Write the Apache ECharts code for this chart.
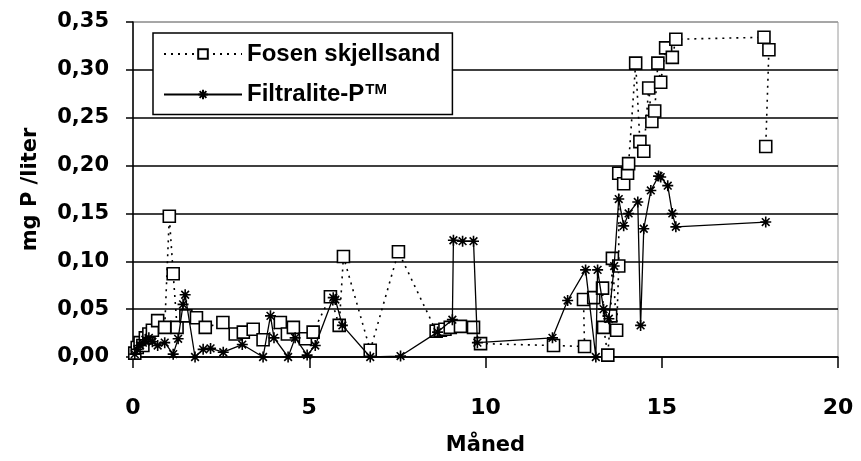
<!DOCTYPE html>
<html>
<head>
<meta charset="utf-8">
<script src="https://cdn.jsdelivr.net/npm/echarts@6/dist/echarts.min.js"></script>
<style>
  html, body { margin: 0; padding: 0; background: #fff; }
  #chart { width: 861px; height: 461px; }
</style>
</head>
<body>
<div id="chart"></div>
<script>
const yTicks = [0, 0.05, 0.1, 0.15, 0.2, 0.25, 0.3, 0.35]
const xTicks = [0, 5, 10, 15, 20]

const fosenMonths = [0.05, 0.12, 0.2, 0.28, 0.35, 0.45, 0.55, 0.7, 0.9, 1.03, 1.14, 1.25, 1.5, 1.8, 2.05, 2.55, 2.9, 3.13, 3.41,
  3.69, 4.18, 4.38, 4.55, 4.89, 5.11, 5.6, 5.85, 5.97, 6.73, 7.53, 8.6, 8.72, 8.85, 9.0, 9.29, 9.66, 9.86, 11.93, 12.81,
  12.78, 13.07, 13.32, 13.35, 13.47, 13.55, 13.6, 13.72, 13.78, 13.78, 13.92, 14.03, 14.06, 14.26, 14.38, 14.49, 14.63,
  14.72, 14.8, 14.89, 14.97, 15.11, 15.3, 15.4, 17.9, 18.04, 17.95]
const fosenValues = [0.004, 0.01, 0.015, 0.012, 0.02, 0.024, 0.028, 0.038, 0.031, 0.147, 0.087, 0.031, 0.043, 0.041, 0.031,
  0.036, 0.024, 0.026, 0.029, 0.018, 0.036, 0.024, 0.031, 0.019, 0.026, 0.063, 0.033, 0.105, 0.007, 0.11, 0.027, 0.028,
  0.029, 0.031, 0.032, 0.031, 0.014, 0.012, 0.011, 0.06, 0.062, 0.072, 0.031, 0.002, 0.043, 0.103, 0.028, 0.095, 0.192,
  0.181, 0.192, 0.202, 0.307, 0.225, 0.215, 0.281, 0.246, 0.257, 0.307, 0.287, 0.323, 0.313, 0.332, 0.334, 0.321, 0.22]

const filtraMonths = [0.05, 0.12, 0.2, 0.28, 0.35, 0.45, 0.55, 0.7, 0.9, 1.14, 1.28, 1.42, 1.48, 1.76, 1.99, 2.2, 2.56, 3.1,
  3.69, 3.9, 4.0, 4.4, 4.6, 4.94, 5.17, 5.68, 5.74, 5.94, 6.73, 7.59, 8.64, 9.06, 9.09, 9.35, 9.66, 9.77, 11.9, 12.33,
  12.84, 13.13, 13.18, 13.35, 13.5, 13.65, 13.78, 13.92, 14.06, 14.32, 14.4, 14.49, 14.69, 14.91, 14.97, 15.17, 15.3,
  15.4, 17.95]
const filtraValues = [0.003, 0.008, 0.012, 0.015, 0.018, 0.02, 0.016, 0.012, 0.015, 0.003, 0.019, 0.055, 0.065, 0.0, 0.008,
  0.009, 0.005, 0.013, 0.0, 0.043, 0.02, 0.0, 0.02, 0.002, 0.012, 0.062, 0.06, 0.033, 0.0, 0.001, 0.026, 0.039, 0.122,
  0.121, 0.121, 0.015, 0.02, 0.059, 0.091, 0.0, 0.091, 0.05, 0.04, 0.095, 0.165, 0.137, 0.15, 0.162, 0.033, 0.134, 0.174,
  0.189, 0.188, 0.179, 0.15, 0.136, 0.141]

const seriesNames = ['Fosen skjellsand', 'Filtralite-P']

const pairs = (xs, ys) => xs.map((x, i) => [x, ys[i]])
const starPath = 'path://M5,0L5,10M0,5L10,5M1.5,1.5L8.5,8.5M8.5,1.5L1.5,8.5'
const boldFont = 'DejaVu Sans'

const chart = echarts.init(document.getElementById('chart'), null, { renderer: 'canvas' })

chart.setOption({
  animation: false,
  backgroundColor: '#fff',
  grid: {
    left: 133, right: 23, top: 22, bottom: 101,
    show: true, borderColor: '#9a9a9a', borderWidth: 1
  },
  legend: {
    orient: 'vertical',
    left: 153, top: 33,
    padding: [9, 12, 8, 10],
    itemGap: 16,
    itemWidth: 78,
    itemHeight: 12,
    borderColor: '#000',
    borderWidth: 1.5,
    backgroundColor: '#fff',
    data: seriesNames,
    formatter: name => name === 'Filtralite-P' ? 'Filtralite-P{sup|TM}' : name,
    textStyle: {
      fontFamily: 'Liberation Sans',
      fontWeight: 'bold',
      fontSize: 24,
      color: '#000',
      rich: {
        sup: { fontFamily: 'Liberation Sans', fontSize: 15, color: '#000', padding: [0, 0, 10, 1] }
      }
    }
  },
  xAxis: {
    type: 'value',
    min: xTicks[0],
    max: xTicks[xTicks.length - 1],
    interval: 5,
    name: 'Måned',
    nameLocation: 'middle',
    nameGap: 78,
    nameTextStyle: { fontFamily: boldFont, fontWeight: 'bold', fontSize: 21, color: '#000' },
    axisLine: { onZero: false, lineStyle: { color: '#000', width: 1.5 } },
    axisTick: { show: true, length: 11, lineStyle: { color: '#000', width: 1.5 } },
    axisLabel: { margin: 40, fontFamily: boldFont, fontWeight: 'bold', fontSize: 22, color: '#000' },
    splitLine: { show: false }
  },
  yAxis: {
    type: 'value',
    min: yTicks[0],
    max: yTicks[yTicks.length - 1],
    interval: 0.05,
    name: 'mg P /liter',
    nameLocation: 'middle',
    nameRotate: 90,
    nameGap: 92,
    nameTextStyle: { fontFamily: boldFont, fontWeight: 'bold', fontSize: 21, color: '#000' },
    axisLine: { show: true, lineStyle: { color: '#000', width: 1.5 } },
    axisTick: { show: true, length: 7, lineStyle: { color: '#000', width: 1.5 } },
    axisLabel: {
      margin: 24,
      fontFamily: boldFont, fontWeight: 'bold', fontSize: 21, color: '#000',
      formatter: v => v.toFixed(2).replace('.', ',')
    },
    splitLine: {
      show: true,
      lineStyle: { color: ['#000', '#000', '#000', '#000', '#000', '#000', '#000', '#9a9a9a'], width: 1.5 }
    }
  },
  series: [
    {
      name: seriesNames[0],
      type: 'line',
      data: pairs(fosenMonths, fosenValues),
      symbol: 'rect',
      symbolSize: 12,
      lineStyle: { color: '#000', width: 1.6, type: [2, 5] },
      itemStyle: { color: '#fff', borderColor: '#000', borderWidth: 1.6 },
      emphasis: { disabled: true },
      z: 3
    },
    {
      name: seriesNames[1],
      type: 'line',
      data: pairs(filtraMonths, filtraValues),
      symbol: starPath,
      symbolSize: 11,
      lineStyle: { color: '#000', width: 1.3 },
      itemStyle: { color: '#000', borderColor: '#000', borderWidth: 1.6 },
      emphasis: { disabled: true },
      z: 4
    }
  ]
})
</script>
</body>
</html>
